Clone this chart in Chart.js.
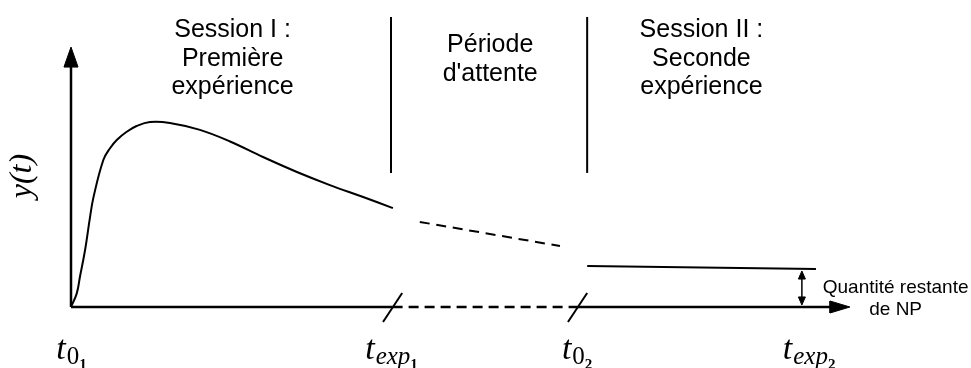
<!DOCTYPE html>
<html>
<head>
<meta charset="utf-8">
<script src="https://cdn.jsdelivr.net/npm/chart.js@4"></script>
<style>
  body { margin: 0; background: #fff; }
</style>
</head>
<body>
<canvas id="sketch" width="971" height="368"></canvas>
<script>
// time in arbitrary units (t0_1 = 0, texp_1 ~ 10), amount y(t) with peak ~ 100
var firstTime   = [0, 0.18, 0.28, 0.44, 0.59, 0.70, 1.01, 1.22, 1.43, 1.74, 2.05, 2.47, 3.09, 4.03, 4.97, 6.0, 7.06, 8.09, 9.13, 10.06];
var firstAmount = [0, 7.3, 16.2, 30.5, 47.5, 58.5, 78.6, 84.9, 89.3, 93.7, 96.8, 98.9, 98.4, 94.7, 88.5, 80.2, 72.2, 65.2, 58.8, 52.9];
var waitTime    = [10.9, 15.28];
var waitAmount  = [45.5, 32.6];
var secondTime   = [16.13, 23.28];
var secondAmount = [21.9, 20.3];

var separatorAt = [10, 16.13];      // vertical lines between phases
var breakAt     = [10.05, 15.83];   // slashes on the time axis
var restAt      = 22.84;            // remaining quantity arrow
var tickAt      = [0, 10, 15.8, 23.05];
var tickSub     = ['0', 'exp', '0', 'exp'];
var tickSubSub  = ['1', '1', '2', '2'];
var headerAt    = [5.05, 13.1, 19.7];
var headerLines = [
    ['Session I :', 'Première', 'expérience'],
    ['Période', "d'attente"],
    ['Session II :', 'Seconde', 'expérience']
];
var restLabel = ['Quantité restante', 'de NP'];

function pts(xs, ys) {
    return xs.map(function(x, i) { return {x: x, y: ys[i]}; });
}

function seg(data, extra) {
    return Object.assign({
        data: data,
        borderColor: '#000',
        backgroundColor: '#000',
        borderWidth: 2,
        pointRadius: 0,
        fill: false,
        tension: 0
    }, extra || {});
}

// axis geometry (data units)
var xTip = 24.34, xHeadBase = 23.72, xHeadHalf = 3.2;
var yTip = 139.0, yHeadBase = 128.3, yHeadHalf = 0.22;
var sepTop = 155.1, sepBottom = 71.7;
var restTop = 19.25, restBottom = 1.07;

var datasets = [
    // curves
    seg(pts(firstTime, firstAmount), {tension: 0.4}),
    seg(pts(waitTime, waitAmount), {borderDash: [10, 6.7]}),
    seg(pts(secondTime, secondAmount)),
    // axes
    seg([{x: 0, y: 0}, {x: breakAt[0], y: 0}], {borderWidth: 2.5}),
    seg([{x: breakAt[0], y: 0}, {x: breakAt[1], y: 0}], {borderWidth: 2.5, borderDash: [10, 6]}),
    seg([{x: breakAt[1], y: 0}, {x: xHeadBase + 0.1, y: 0}], {borderWidth: 2.5}),
    seg([{x: xTip, y: 0}, {x: xHeadBase, y: xHeadHalf}, {x: xHeadBase, y: -xHeadHalf}, {x: xTip, y: 0}],
        {fill: 'shape', borderWidth: 1}),
    seg([{x: 0, y: 0}, {x: 0, y: yHeadBase + 1}], {borderWidth: 2.5}),
    seg([{x: 0, y: yTip}, {x: -yHeadHalf, y: yHeadBase}, {x: yHeadHalf, y: yHeadBase}, {x: 0, y: yTip}],
        {fill: 'shape', borderWidth: 1}),
    // remaining quantity double arrow
    seg([{x: restAt, y: restBottom + 2}, {x: restAt, y: restTop - 2}], {borderWidth: 1.5}),
    seg([{x: restAt, y: restTop}, {x: restAt - 0.11, y: restTop - 4.3}, {x: restAt + 0.11, y: restTop - 4.3}, {x: restAt, y: restTop}],
        {fill: 'shape', borderWidth: 1}),
    seg([{x: restAt, y: restBottom}, {x: restAt - 0.11, y: restBottom + 4.3}, {x: restAt + 0.11, y: restBottom + 4.3}, {x: restAt, y: restBottom}],
        {fill: 'shape', borderWidth: 1})
];

separatorAt.forEach(function(s) {
    datasets.push(seg([{x: s, y: sepBottom}, {x: s, y: sepTop}]));
});
breakAt.forEach(function(b) {
    datasets.push(seg([{x: b - 0.3, y: -8}, {x: b + 0.3, y: 7.5}]));
});

// texts drawn at scale positions
var textPlugin = {
    id: 'sketchText',
    afterDraw: function(chart) {
        var ctx = chart.ctx;
        var xs = chart.scales.x, ys = chart.scales.y;
        ctx.save();
        ctx.fillStyle = '#000';
        ctx.textAlign = 'center';
        ctx.textBaseline = 'alphabetic';

        ctx.font = '25px "Liberation Sans", Arial, sans-serif';
        headerLines.forEach(function(lines, h) {
            var top = lines.length === 2 ? 52 : 37;
            lines.forEach(function(line, i) {
                ctx.fillText(line, xs.getPixelForValue(headerAt[h]), top + i * 28.5);
            });
        });

        ctx.font = '19px "Liberation Sans", Arial, sans-serif';
        ctx.fillText(restLabel[0], xs.getPixelForValue(25.77), ys.getPixelForValue(7.5));
        ctx.fillText(restLabel[1], xs.getPixelForValue(25.77), ys.getPixelForValue(-4.3));

        // tick labels t_{sub_{subsub}}
        ctx.textAlign = 'left';
        tickAt.forEach(function(t, i) {
            var mainFont = 'italic 34px "Liberation Serif", serif';
            var subFont = (tickSub[i] === '0' ? '' : 'italic ') + '25px "Liberation Serif", serif';
            var subSubFont = 'bold 15px "Liberation Serif", serif';
            ctx.font = mainFont; var w1 = ctx.measureText('t').width;
            ctx.font = subFont; var w2 = ctx.measureText(tickSub[i]).width;
            ctx.font = subSubFont; var w3 = ctx.measureText(tickSubSub[i]).width;
            var left = xs.getPixelForValue(t) - (w1 + w2 + w3) / 2;
            var base = ys.getPixelForValue(-27.8);
            ctx.font = mainFont; ctx.fillText('t', left, base);
            ctx.font = subFont; ctx.fillText(tickSub[i], left + w1 + 1, base + 5);
            ctx.font = subSubFont; ctx.fillText(tickSubSub[i], left + w1 + w2 + 1, base + 10);
        });

        // y(t) axis title
        ctx.translate(xs.getPixelForValue(-1.5), ys.getPixelForValue(70));
        ctx.rotate(-Math.PI / 2);
        ctx.textAlign = 'center';
        ctx.textBaseline = 'middle';
        ctx.font = 'italic 32px "Liberation Serif", serif';
        ctx.fillText('y(t)', 0, 0);
        ctx.restore();
    }
};

var ctx = document.getElementById('sketch').getContext('2d');
var sketch = new Chart(ctx, {
    type: 'line',
    data: { datasets: datasets },
    options: {
        responsive: false,
        animation: false,
        layout: { padding: 0 },
        plugins: {
            legend: { display: false },
            tooltip: { enabled: false }
        },
        scales: {
            x: { type: 'linear', display: false, min: -2.21875, max: 28.125 },
            y: { type: 'linear', display: false, min: -32.62, max: 164.17 }
        }
    },
    plugins: [textPlugin]
});
</script>
</body>
</html>
